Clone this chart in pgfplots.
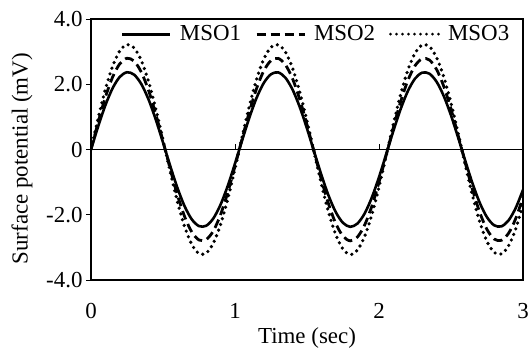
\documentclass[border=0pt]{standalone}
\usepackage{pgfplots}
\usepackage{pgfplotstable}
\usepackage{fontspec}
\setmainfont{Liberation Serif}
\pgfplotsset{compat=1.18}
\pgfplotstableread{
t a b c
0 0 0 0
0.05 0.712 0.841 0.967
0.10 1.358 1.604 1.845
0.15 1.878 2.219 2.552
0.20 2.226 2.629 3.024
0.25 2.368 2.797 3.217
0.30 2.291 2.707 3.113
0.35 2.002 2.365 2.720
0.40 1.530 1.807 2.078
0.45 0.915 1.081 1.244
0.50 0.217 0.256 0.294
0.55 -0.502 -0.593 -0.682
0.60 -1.175 -1.388 -1.596
0.65 -1.739 -2.055 -2.363
0.70 -2.142 -2.530 -2.910
0.75 -2.348 -2.774 -3.190
0.80 -2.337 -2.761 -3.175
0.85 -2.110 -2.493 -2.867
0.90 -1.688 -1.995 -2.294
0.95 -1.111 -1.313 -1.510
1.00 -0.431 -0.510 -0.586
1.05 0.288 0.341 0.392
1.10 0.981 1.159 1.333
1.15 1.584 1.872 2.153
1.20 2.041 2.412 2.773
1.25 2.308 2.727 3.136
1.30 2.363 2.792 3.211
1.35 2.200 2.599 2.988
1.40 1.834 2.166 2.491
1.45 1.298 1.533 1.763
1.50 0.642 0.759 0.873
1.55 -0.072 -0.085 -0.098
1.60 -0.780 -0.922 -1.060
1.65 -1.417 -1.674 -1.925
1.70 -1.921 -2.270 -2.610
1.75 -2.249 -2.657 -3.056
1.80 -2.370 -2.800 -3.220
1.85 -2.271 -2.683 -3.086
1.90 -1.963 -2.319 -2.667
1.95 -1.474 -1.741 -2.002
2.00 -0.848 -1.002 -1.152
2.05 -0.144 -0.171 -0.196
2.10 0.573 0.676 0.778
2.15 1.237 1.461 1.681
2.20 1.787 2.111 2.428
2.25 2.172 2.566 2.950
2.30 2.356 2.784 3.202
2.35 2.324 2.745 3.157
2.40 2.076 2.452 2.820
2.45 1.636 1.933 2.223
2.50 1.047 1.237 1.422
2.55 0.360 0.425 0.489
2.60 -0.360 -0.426 -0.489
2.65 -1.047 -1.237 -1.423
2.70 -1.637 -1.934 -2.224
2.75 -2.076 -2.452 -2.820
2.80 -2.324 -2.745 -3.157
2.85 -2.356 -2.784 -3.202
2.90 -2.172 -2.566 -2.951
2.95 -1.787 -2.111 -2.428
3.00 -1.237 -1.461 -1.680
}\datatable
\newcommand{\bigf}{\fontsize{23}{27}\selectfont}
\begin{document}
\begin{tikzpicture}
\begin{axis}[
  scale only axis, width=432bp, height=261bp,
  at={(0,0)}, anchor=south west,
  xmin=0, xmax=3, ymin=-4, ymax=4,
  xtick={0,1,2,3}, xticklabels={0,1,2,3},
  ytick={-4,-2,0,2,4}, yticklabels={-4.0,-2.0,0,2.0,4.0},
  x tick style={draw=none},
  y tick style={black, line width=0.8bp},
  tick align=outside, major tick length=5bp,
  ytick pos=left,
  axis line style={line width=1.2bp},
  tick label style={font=\bigf},
  xticklabel style={yshift=-15bp},
  label style={font=\bigf},
  xlabel={Time (sec)}, ylabel={Surface potential (mV)},
  xlabel style={at={(axis description cs:0.5,0)}, anchor=base, yshift=-63bp},
  ylabel style={at={(axis description cs:0,0.465)}, anchor=center, rotate=0, yshift=69bp},
  legend columns=3,
  legend style={draw=none, fill=none, font=\bigf, at={(axis description cs:0.521,0.99)}, anchor=north,
    /tikz/every even column/.append style={column sep=12bp}},
  legend image code/.code={\draw[#1, line width=3bp] (0bp,0bp) -- (48bp,0bp);},
  clip=true,
]
\draw[line width=0.8bp] (axis cs:0,0) -- (axis cs:3,0);
\draw[line width=0.8bp] (axis cs:1,0) -- ([yshift=6bp]axis cs:1,0);
\draw[line width=0.8bp] (axis cs:2,0) -- ([yshift=6bp]axis cs:2,0);
\addplot[black, line width=2.6bp, smooth] table[x=t, y=a] {\datatable};
\addlegendentry{\hspace{6bp}MSO1}
\addplot[black, line width=2.8bp, dash pattern=on 9bp off 5bp, smooth] table[x=t, y=b] {\datatable};
\addlegendentry{\hspace{6bp}MSO2}
\addplot[black, line width=3.6bp, line cap=round, dash pattern=on 0bp off 6bp, smooth] table[x=t, y=c] {\datatable};
\addlegendentry{\hspace{6bp}MSO3}
\end{axis}
\pgfresetboundingbox
\path (-91bp,-71bp) rectangle (441bp,280bp);
\end{tikzpicture}
\end{document}
